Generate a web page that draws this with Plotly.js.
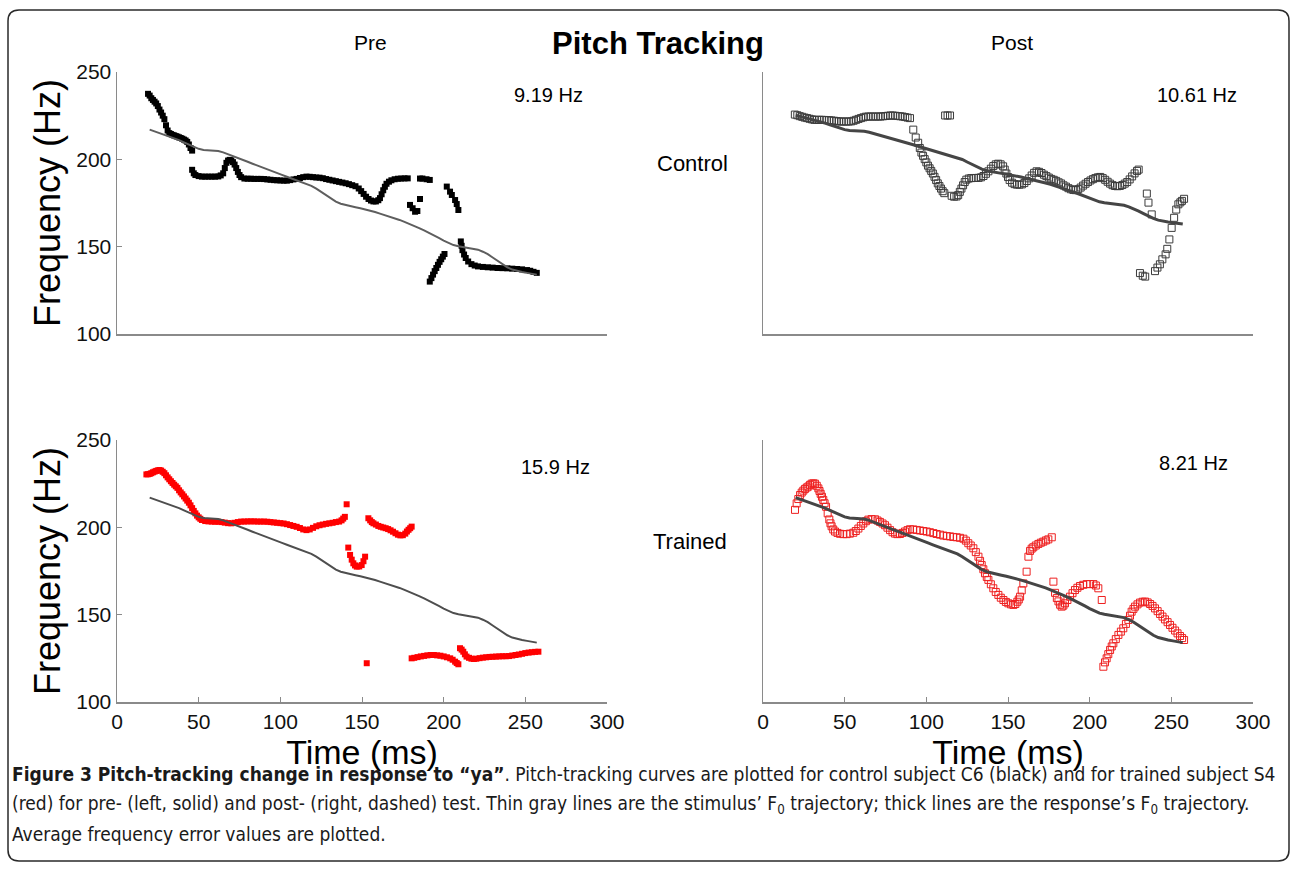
<!DOCTYPE html>
<html>
<head>
<meta charset="utf-8">
<script src="https://cdn.plot.ly/plotly-3.0.1.min.js"></script>
<style>
  html, body { margin: 0; padding: 0; background: #ffffff; }
  #chart { width: 1293px; height: 870px; }
</style>
</head>
<body>
<div id="chart"></div>
<script>
// ---------------- DATA ----------------
// Stimulus F0 trajectory [time ms, Hz]
const stimulus = [[20,217],[23,216],[26,215.2],[29,214.3],[32,213.2],[35,212.1],[38,211],[41,209.7],[44,208.4],[47,207.1],[50,206],[53,205.4],[56,205.2],[59,205.1],[62,204.8],[65,204],[68,203],[71,201.9],[74,200.8],[77,199.7],[80,198.6],[83,197.5],[86,196.5],[89,195.5],[92,194.5],[95,193.3],[98,192.2],[101,191.1],[104,190],[107,189],[110,188],[113,187],[116,185.9],[119,184.8],[122,183.2],[125,181.3],[128,179.3],[131,177.4],[134,175.8],[137,174.6],[140,173.8],[143,173.2],[146,172.6],[149,172],[152,171.4],[155,170.6],[158,169.8],[161,168.9],[164,168.1],[167,167.2],[170,166.3],[173,165.3],[176,164.2],[179,163.1],[182,161.9],[185,160.6],[188,159.3],[191,158],[194,156.6],[197,155],[200,153.5],[203,152],[206,150.9],[209,150.2],[212,149.8],[215,149.4],[218,149],[221,148.3],[224,147.1],[227,145.7],[230,143.8],[233,141.9],[236,139.9],[239,138.2],[242,136.9],[245,136],[248,135.5],[251,135],[254,134.5],[257,134]];

// Control subject C6, pre-test response [time ms, Hz]
const preControl = [[19,237.5],[20,236.5],[21,235],[22,234],[23,233],[24,232],[25,230.5],[26,228.5],[27,226.8],[28,225],[29,223],[30,219.5],[31,216.5],[32,215],[33,214.5],[34,214],[35,213.7],[36,213.3],[37,213],[38,212.6],[39,212.2],[40,211.8],[41,211.3],[42,210.8],[43,210],[44,208.5],[45,206.5],[46,205],
[46,194],[47,192],[48,191],[50,190.4],[52,190.1],[54,190.1],[56,190.1],[58,190.1],[60,190.1],[62,190.2],[63.5,190.8],[65,192],[66,195],[67,198],[68,199.3],[69,199.7],[70,199.4],[71,198.4],[72,197],[73,195],[74,192.8],[75,191],[76,189.8],[78,189],[80,188.9],[82,188.9],[84,188.8],[86,188.8],[88,188.8],[90,188.7],[92,188.5],[94,188.3],[96,188.1],[98,188],[100,187.9],[102,187.8],[104,187.8],[106,188.1],[108,188.5],[110,188.8],[112,189.3],[114,189.8],[116,190.1],[118,190],[120,189.8],[122,189.6],[124,189.5],[126,189.2],[128,188.7],[130,188.3],[132,187.9],[134,187.5],[136,187.1],[138,186.7],[140,186.3],[142,185.8],[144,185.2],[146,184.6],[148,183.3],[149.5,181.8],[151,180.2],[152.5,178.6],[154,177.3],[155.5,176.4],[157,175.9],[158.5,175.9],[160,176.6],[161,177.8],[162,180],[163,182.3],[164,184.3],[165,186],[166.5,187.2],[168,188],[170,188.6],[172,188.9],[174,189],[176,189.1],[178,189.1],
[185.5,189],[187,189],[189.5,188.6],[191.5,188.2],
[179.4,173.9],[181,172],[182.5,170],[183.9,170.4],[185.5,177.3],
[201.9,184.4],[203.9,181.5],[205,179.6],[207,176.7],[208,174.4],[209,171],
[191.5,130],[192.5,132],[193.5,134],[194.5,136],[195.5,137.8],[196.5,139.6],[197.5,141.3],[198.5,142.8],[199.5,144.3],[200.5,145.8],
[210.5,153],[211,150.5],[211.5,148],[212.5,145.5],[213.5,143.5],[215,141.5],[217,140],[219,139.2],[221,138.7],[224,138.4],[227,138.2],[230,138],[233,137.8],[236,137.7],[239,137.6],[242,137.4],[245,137.2],[248,137],[251,136.6],[253,136.2],[255,135.6],[257,135]];

// Control subject C6, post-test response
const postControl = [[19.5,217.5],[21,217],[22.5,216.3],[24,215.8],[25.5,215.2],[27,214.8],[28.5,214.3],[30,213.8],[31.5,213.5],[33,213.5],[34.5,213.5],[36,213.5],[37.5,213.4],[39,213.3],[40.5,213.2],[42,213],[43.5,212.8],[45,212.5],[46.5,212.3],[48,212.2],[49.5,212.2],[51,212.2],[52.5,212.2],[54,212.3],[55.5,212.8],[57,213.5],[58.5,214.2],[60,214.8],[61.5,215.4],[63,215.9],[64.5,216],[66,216],[67.5,216],[69,216],[70.5,216],[72,216],[73.5,216.2],[75,216.4],[76.5,216.6],[78,216.8],[79.5,216.8],[81,216.6],[82.5,216.4],[84,216.2],[85.5,216],[87,215.6],[88.5,215.2],[90,214.8],
[92,206],[93.5,200],[95,196],[96,192],[97,188.5],[98,186],[99,183.5],[100,181],[101,178.5],[102,176.5],[103,174.5],[104,172.5],[105,170],[106,167.5],[107,165],[108,163],[109,161],[110,159],[111,157.5],
[111.5,216.8],[113,216.8],[114.5,216.8],
[115.5,155.5],[117,154.8],[118.5,155],[119.5,156],[120.5,158.5],[121.5,161],[122.5,163.5],[123.5,166],[124.5,167.8],[126,168.7],[127.5,169],[129,169.1],[130.5,169.1],[132,169.2],[133.5,169.6],[135,170.6],[136.5,172.3],[138,174.2],[139.5,176.2],[141,178.2],[142.5,179.5],[144,180],[145.5,179.5],[147,178],[148,175.5],[149,172.5],[150,169.8],[151,167.5],[152.5,165.5],[154,164.4],[155.5,164],[157,164],[158.5,164.2],[160,165.2],[161.5,166.8],[163,168.8],[164.5,171],[166,173],[167.5,174.2],[169,173.8],[170.5,172.9],[172,171.6],[173.5,170.5],[175,169.4],[176.5,168.4],[178,167.7],[179.5,166.9],[181,165.8],[182.5,164.9],[184,163.5],[185.5,162.5],[187,161.3],[188.5,160.5],[190,160],[191.5,159.8],[193,160.6],[194.5,161.8],[196,163.3],[197.5,164.7],[199,166],[200.5,167.2],[202,168.2],[203.5,169],[205,169.6],[206.5,169.9],[208,169],[209.5,167.7],[211,166.2],[212.5,164.8],[214,163.6],[215.5,163],[217,162.8],[218.5,163],[220,163.7],[221.5,164.8],[223,166],[224.5,168],[226,170.3],[227.5,172.6],[229,174.5],[230,175.5],
[235,157.2],[236,150.3],[238,141.3],
[230.8,96.5],[232.5,94.5],[234,93.8],
[240,98],[241.5,100.7],[243,103.2],[244.5,107],[246.5,110.8],[247.5,115],[248.8,122.2],[250.2,131],[251.7,138.7],[253,145],[254.3,149],[255.5,150.5],[256.5,151.6],[257.8,153.2]];

// Trained subject S4, pre-test response
const preTrained = [[18,230.3],[19,230.4],[20,230.6],[21,231],[22,231.5],[23,231.9],[24,232.3],[25,232.6],[26,232.8],[27,232.5],[28,231.8],[29,231],[30,229.8],[31,228.6],[32,227.5],[33,226.4],[34,225.4],[35,224.4],[36,223.5],[37,222.6],[38,221.2],[39,220],[40,218.9],[41,217.7],[42,216.5],[43,215.3],[44,214.1],[45,212.6],[46,211],[47,209.4],[48,208],[49,206.7],[50,205.7],[51,204.9],[52,204.2],[54,203.6],[56,203.4],[58,203.3],[60,203.2],[62,203.2],[64,203],[66,202.7],[68,202.4],[70,202.3],[72,202.6],[74,203],[76,203.3],[78,203.3],[80,203.4],[82,203.4],[84,203.4],[86,203.3],[88,203.3],[90,203.3],[92,203.2],[94,203],[96,202.8],[98,202.6],[100,202.4],[102,202.2],[104,201.8],[106,201.3],[108,200.8],[110,200.3],[112,199.6],[114,198.8],[116,198.4],[118,198.8],[120,199.7],[122,200.6],[124,201.2],[126,201.6],[128,202],[130,202.3],[132,202.6],[134,203],[136,203.3],[137.5,204],[138.5,205],[139.5,206],
[140.6,213.2],
[141.6,188.4],
[142.7,184.2],[143.7,181.5],[144.7,179.4],[145.7,178.2],[146.8,177.5],[148.3,177.6],[149.8,178.4],[150.9,180.6],[151.9,183.2],
[153.9,205.2],[155,204],[156,203],[157,202.3],[158.5,201.6],[160,200.8],[161.5,200.3],[163,199.9],[164.5,199.5],[166,199],[167.5,198.3],[169,197.5],[170.5,196.6],[172,195.8],[173.5,195.4],[175,195.5],[176.5,196.4],[177.5,197.6],[178.5,198.6],[179.5,199.5],[180.4,200.4],
[152.9,122.2],
[180.4,125],[182,125.3],[184,125.7],[186,126.1],[188,126.4],[190,126.7],[192,126.9],[194,126.9],[196,126.7],[198,126.5],[200,126.1],[202,125.6],[204,125],[205.5,124.2],[207,123.1],[208,122.3],[209,121.6],[210,130.8],[211,130],[212,128.8],[213,127.3],[214,126],[215.5,125.3],[217,124.8],[218.5,124.6],[220,124.8],[222,125.1],[224,125.4],[226,125.6],[228,125.8],[230,125.9],[232,126],[234,126.1],[236,126.2],[238,126.2],[240,126.3],[242,126.6],[244,126.9],[246,127.2],[248,127.6],[250,128],[252,128.3],[254,128.5],[256,128.7],[258,128.8]];

// Trained subject S4, post-test response
const postTrained = [[19.6,210],[20.6,213.7],[21.6,216.2],[22.7,218.5],[23.7,219.9],[24.7,221],[25.7,222],[26.8,222.8],[27.8,223.4],[28.8,224.3],[29.8,225],[30.8,225.2],[31.8,225],[32.9,223.8],[33.9,222.3],[34.6,220.8],[35.3,219.2],[36.1,217.5],[36.9,215.7],[37.7,213.8],[38.6,211.8],[39.6,208],[40.6,204.5],[41.3,202.3],[42,200.6],[43,198.8],[44.1,197.6],[45.6,196.8],[47.2,196.3],[49.2,196.1],[51.2,196.1],[53.2,196.4],[55.3,196.9],[56.8,197.9],[58.4,199.3],[59.9,200.8],[61.4,202.2],[63,203.5],[64.5,204.4],[66.5,204.7],[68.6,204.6],[70.1,203.9],[71.6,203.1],[73.2,202.2],[74.7,201.2],[76.2,199.8],[77.8,198.4],[79.3,197.2],[80.8,196.4],[82.3,196.1],[83.9,196.2],[85.4,196.8],[86.9,197.6],[88.5,198.4],[90,198.9],[92,198.8],[94.1,198.5],[96.1,198.2],[98.2,197.9],[100.2,197.6],[102.2,197.2],[104.3,196.7],[106.3,196.2],[108.4,195.8],[110.4,195.3],[112.5,195],[114.5,194.8],[116.5,194.5],[118.6,194.3],[120.6,194],[122.7,193.5],[124.2,192.4],[125.7,190.9],[127.2,189.6],[128.8,188],[130.3,185.8],[131.9,183.2],[132.9,180.8],[133.9,178.4],[134.9,176],[135.9,173.7],[137,171.6],[138,169.9],[139.5,167.4],[141,165.1],[142.5,163],[144.1,161.3],[145.6,159.7],[147.2,158.4],[148.7,157.3],[150.2,156.5],[151.8,155.9],[153.3,155.6],[154.5,156.1],[155.7,157.4],[156.6,158.7],[157.4,160.3],[158.4,163.9],[159.4,167.9],[161.4,174.6],[162.5,183.2],[163.5,186.5],[164.5,187.8],[165.5,188.6],[167,189.6],[168.6,190.5],[170.1,191.2],[171.6,191.8],[173.2,192.5],[174.7,193.1],[176.8,194.3],
[177.8,168.9],[178.8,162.5],[179.9,159.5],[180.9,157.6],[181.9,155.7],[182.9,154.6],[183.9,155.2],[184.9,156.5],[186.4,158.4],[188,160.3],[189.5,162.3],[191,164.1],[192.5,165.4],[194.1,166.4],[196.1,167.1],[198.2,167.5],[200.2,167.5],[202.3,167.5],[203.8,166.7],[205.3,165.1],[207.4,158.4],
[208.4,120.2],[209.4,122.7],[210.4,125],[211.4,127.4],[212.5,129.8],[213.5,131.8],[214.5,133.6],[216,136],[217.6,138.4],[219.1,140.3],[220.6,142.2],[222.2,144.7],[223.7,147],[224.7,149.4],[225.7,151.7],[226.8,153.3],[227.8,154.6],[229.3,155.9],[230.8,156.9],[232.4,157.4],[233.9,157.5],[235.5,157],[237,156.1],[238.5,155],[240,153.6],[241.6,152],[243.1,150.4],[244.6,148.9],[246.1,147.3],[247.7,145.7],[249.2,144.1],[250.7,142.5],[252.3,140.9],[253.8,139.3],[255.3,137.8],[256.6,136.6],[257.8,135.5]];

const xTicks = [0, 50, 100, 150, 200, 250, 300];
const yTicks = [100, 150, 200, 250];
const errorLabels = ['9.19 Hz', '10.61 Hz', '15.9 Hz', '8.21 Hz'];
const columnLabels = ['Pre', 'Post'];
const rowLabels = ['Control', 'Trained'];

// ---------------- LAYOUT HELPERS ----------------
const W = 1293, H = 870;
const px = x => x / W;
const py = y => 1 - y / H;
const FONT = 'Liberation Sans';
const CAPFONT = 'DejaVu Sans Condensed';

const col = a => a.map(p => p[0]);
const val = a => a.map(p => p[1]);

function respTrace(data, xa, ya, sym, color, size, lw) {
  return {
    type: 'scatter', mode: 'markers', x: col(data), y: val(data), xaxis: xa, yaxis: ya,
    marker: { symbol: sym, color: color, size: size, line: { color: color, width: lw } },
    hoverinfo: 'skip'
  };
}
function stimTrace(xa, ya, color, width) {
  return {
    type: 'scatter', mode: 'lines', x: col(stimulus), y: val(stimulus), xaxis: xa, yaxis: ya,
    line: { color: color, width: width }, hoverinfo: 'skip'
  };
}

const traces = [
  respTrace(preControl, 'x', 'y', 'square', '#000000', 6, 0),
  stimTrace('x', 'y', '#5e5e5e', 2),
  respTrace(postControl, 'x2', 'y2', 'square-open', '#3c3c3c', 7, 1),
  stimTrace('x2', 'y2', '#454545', 3),
  respTrace(preTrained, 'x3', 'y3', 'square', '#ff0000', 6, 0),
  stimTrace('x3', 'y3', '#4e4e4e', 2),
  respTrace(postTrained, 'x4', 'y4', 'square-open', '#ee2020', 7, 1),
  stimTrace('x4', 'y4', '#454545', 3)
];

const LEFT = [px(117), px(607)];
const RIGHT = [px(763), px(1253)];
const TOP = [py(334), py(72)];
const BOT = [py(702), py(440)];

const axLine = { showline: true, linecolor: '#8a8a8a', linewidth: 1.5, showgrid: false, zeroline: false, fixedrange: true };
const tickFont = { family: FONT, size: 21, color: '#111' };

function xAxis(domain, anchor, labels) {
  const a = Object.assign({}, axLine, {
    domain: domain, anchor: anchor, range: [0, 300], tickvals: xTicks,
    showticklabels: labels, ticks: labels ? 'inside' : '', ticklen: 5, tickcolor: '#8a8a8a',
    tickfont: tickFont
  });
  if (labels) a.title = { text: 'Time (ms)', font: { family: FONT, size: 34, color: '#000' }, standoff: 0 };
  return a;
}
function yAxis(domain, anchor, labels, range) {
  const a = Object.assign({}, axLine, {
    domain: domain, anchor: anchor, range: range, tickvals: yTicks,
    showticklabels: labels, ticks: labels ? 'inside' : '', ticklen: 5, tickcolor: '#8a8a8a',
    tickfont: tickFont
  });
  if (labels) a.title = { text: 'Frequency (Hz)', font: { family: FONT, size: 36, color: '#000' }, standoff: 4 };
  return a;
}

function ann(text, x, y, size, opts) {
  return Object.assign({
    text: text, xref: 'paper', yref: 'paper', x: px(x), y: py(y),
    xanchor: 'center', yanchor: 'middle', showarrow: false,
    font: { family: FONT, size: size, color: '#000' }
  }, opts || {});
}

const capFont = { family: CAPFONT, size: 19, color: '#1a1a1a' };
const annotations = [
  ann(columnLabels[0], 370, 43, 21),
  ann(columnLabels[1], 1012, 43, 21),
  ann(rowLabels[0], 692, 164, 22),
  ann(rowLabels[1], 690, 541, 22),
  ann(errorLabels[0], 548, 95, 20),
  ann(errorLabels[1], 1197, 95, 20),
  ann(errorLabels[2], 555, 467, 20),
  ann(errorLabels[3], 1193, 463, 20),
  ann('<b>Figure 3 Pitch-tracking change in response to “ya”</b>. Pitch-tracking curves are plotted for control subject C6 (black) and for trained subject S4',
      10, 774, 19, { xanchor: 'left', font: capFont }),
  ann('(red) for pre- (left, solid) and post- (right, dashed) test. Thin gray lines are the stimulus’ F<sub>0</sub> trajectory; thick lines are the response’s F<sub>0</sub> trajectory.',
      10, 804, 19, { xanchor: 'left', font: capFont }),
  ann('Average frequency error values are plotted.',
      10, 834, 19, { xanchor: 'left', font: capFont })
];

// rounded frame
const L = 8, R = 1289, T = 10, B = 861, r = 11;
const framePath = [
  'M', px(L + r), py(T),
  'L', px(R - r), py(T),
  'Q', px(R), py(T), px(R), py(T + r),
  'L', px(R), py(B - r),
  'Q', px(R), py(B), px(R - r), py(B),
  'L', px(L + r), py(B),
  'Q', px(L), py(B), px(L), py(B - r),
  'L', px(L), py(T + r),
  'Q', px(L), py(T), px(L + r), py(T), 'Z'
].join(' ');

const layout = {
  width: W, height: H,
  margin: { l: 0, r: 0, t: 0, b: 0, pad: 0 },
  paper_bgcolor: '#ffffff', plot_bgcolor: 'rgba(0,0,0,0)',
  showlegend: false,
  font: { family: FONT, color: '#000' },
  title: { text: '<b>Pitch Tracking</b>', font: { family: FONT, size: 31, color: '#000' },
           x: px(658), y: py(43), xanchor: 'center', yanchor: 'middle', xref: 'paper', yref: 'paper' },
  xaxis: xAxis(LEFT, 'y', false),
  yaxis: yAxis(TOP, 'x', true, [100, 250]),
  xaxis2: xAxis(RIGHT, 'y2', false),
  yaxis2: yAxis(TOP, 'x2', false, [50, 250]),
  xaxis3: xAxis(LEFT, 'y3', true),
  yaxis3: yAxis(BOT, 'x3', true, [100, 250]),
  xaxis4: xAxis(RIGHT, 'y4', true),
  yaxis4: yAxis(BOT, 'x4', false, [100, 250]),
  annotations: annotations,
  shapes: [{ type: 'path', xref: 'paper', yref: 'paper', path: framePath,
             line: { color: '#2a2a2a', width: 1.5 }, fillcolor: 'rgba(0,0,0,0)', layer: 'below' }]
};

Plotly.newPlot('chart', traces, layout, { displayModeBar: false, staticPlot: true });
</script>
</body>
</html>
